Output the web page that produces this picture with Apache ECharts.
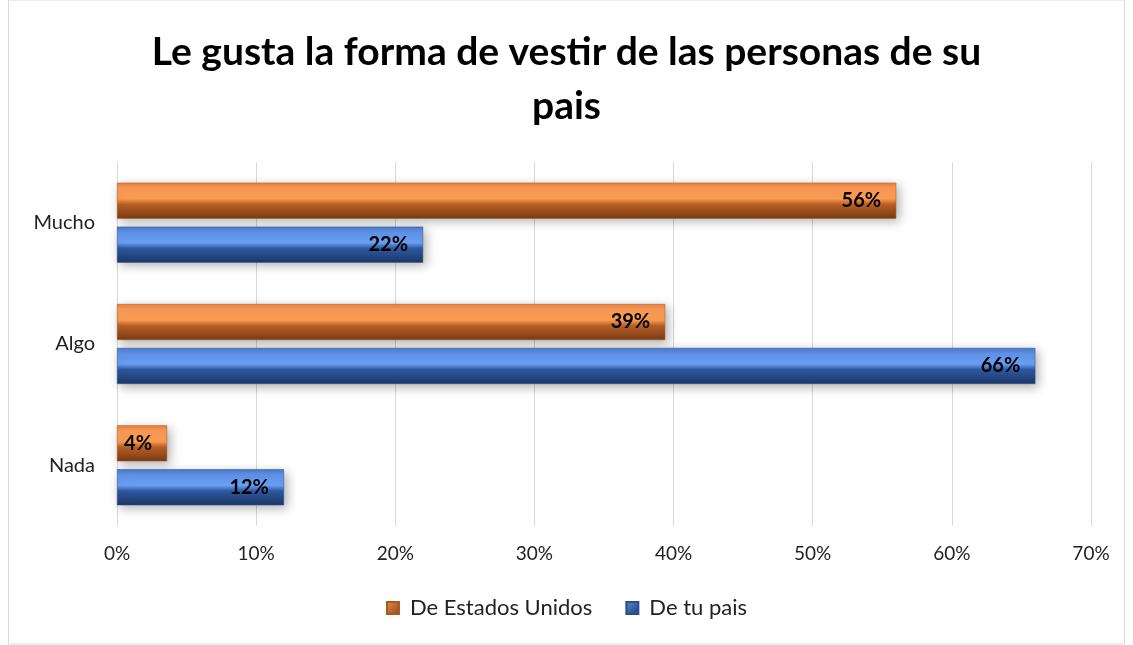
<!DOCTYPE html>
<html><head><meta charset="utf-8">
<script src="https://cdn.jsdelivr.net/npm/echarts@6/dist/echarts.min.js"></script>
<style>html,body{margin:0;padding:0;background:#fff}#c{width:1133px;height:645px}</style>
</head><body><div id="c"></div>
<script>
const categories = ['Nada', 'Algo', 'Mucho'];
const seriesNames = ['De Estados Unidos', 'De tu pais'];
const estadosUnidos = [3.6, 39.4, 56];
const tuPais = [12, 66, 22];
const xTicks = [0, 10, 20, 30, 40, 50, 60, 70];

const chart = echarts.init(document.getElementById('c'));
const orangeGrad = new echarts.graphic.LinearGradient(0, 0, 0, 1, [
  {offset: 0, color: '#E8803C'}, {offset: 0.15, color: '#F89A55'},
  {offset: 0.45, color: '#F99A52'}, {offset: 0.6, color: '#B85F25'},
  {offset: 1, color: '#7A3A14'}]);
const blueGrad = new echarts.graphic.LinearGradient(0, 0, 0, 1, [
  {offset: 0, color: '#4A78C8'}, {offset: 0.15, color: '#5E92E6'},
  {offset: 0.45, color: '#6A9EF2'}, {offset: 0.6, color: '#2D58A0'},
  {offset: 1, color: '#1C3766'}]);
const legendOrange = new echarts.graphic.LinearGradient(0, 0, 1, 1, [
  {offset: 0, color: '#F0904A'}, {offset: 1, color: '#8A4418'}]);
const legendBlue = new echarts.graphic.LinearGradient(0, 0, 1, 1, [
  {offset: 0, color: '#5A8EE0'}, {offset: 1, color: '#1E3A6E'}]);

const labelOpt = {show: true, position: 'insideRight', distance: 15,
  color: '#000', fontWeight: 'bold', fontSize: 20, fontFamily: 'Lato',
  formatter: p => Math.round(p.value) + '%'};

chart.setOption({
  backgroundColor: '#fff',
  animation: false,
  title: {text: 'Le gusta la forma de vestir de las personas de su\npais',
    left: 'center', top: 20,
    textStyle: {fontFamily: 'Lato', fontWeight: 'bold', fontSize: 39, lineHeight: 54, color: '#000'}},
  graphic: [{type: 'rect', shape: {x: 8.5, y: 0, width: 1116, height: 644},
    style: {fill: 'none', stroke: '#d9d9d9', lineWidth: 1}, silent: true}],
  legend: {bottom: 21, left: 'center', icon: 'rect', itemWidth: 12, itemHeight: 12, itemGap: 33,
    textStyle: {fontFamily: 'Lato', fontSize: 22, color: '#222', padding: [0, 0, 0, 6]},
    data: [{name: seriesNames[0], itemStyle: {color: legendOrange}},
           {name: seriesNames[1], itemStyle: {color: legendBlue}}]},
  grid: {left: 117, right: 42, top: 162, bottom: 119},
  xAxis: {type: 'value', min: 0, max: 70, interval: 10,
    axisLabel: {formatter: v => xTicks.includes(v) ? v + '%' : '', fontFamily: 'Lato', fontSize: 19, color: '#222', margin: 18},
    axisLine: {show: false}, axisTick: {show: false},
    splitLine: {lineStyle: {color: '#d9d9d9', width: 1}}},
  yAxis: {type: 'category', data: categories,
    axisLabel: {fontFamily: 'Lato', fontSize: 20, color: '#222', margin: 22},
    axisLine: {show: false}, axisTick: {show: false}},
  series: [
    {name: seriesNames[0], type: 'bar', data: estadosUnidos, barWidth: 36, barGap: '22%', barCategoryGap: '34%',
     itemStyle: {color: orangeGrad, borderColor: '#A65A22', borderWidth: 0.5, shadowBlur: 10, shadowColor: 'rgba(0,0,0,0.3)', shadowOffsetX: 3, shadowOffsetY: 3},
     label: labelOpt},
    {name: seriesNames[1], type: 'bar', data: tuPais, barWidth: 36,
     itemStyle: {color: blueGrad, borderColor: '#2A4F8E', borderWidth: 0.5, shadowBlur: 10, shadowColor: 'rgba(0,0,0,0.3)', shadowOffsetX: 3, shadowOffsetY: 3},
     label: labelOpt}
  ]
});
</script></body></html>
